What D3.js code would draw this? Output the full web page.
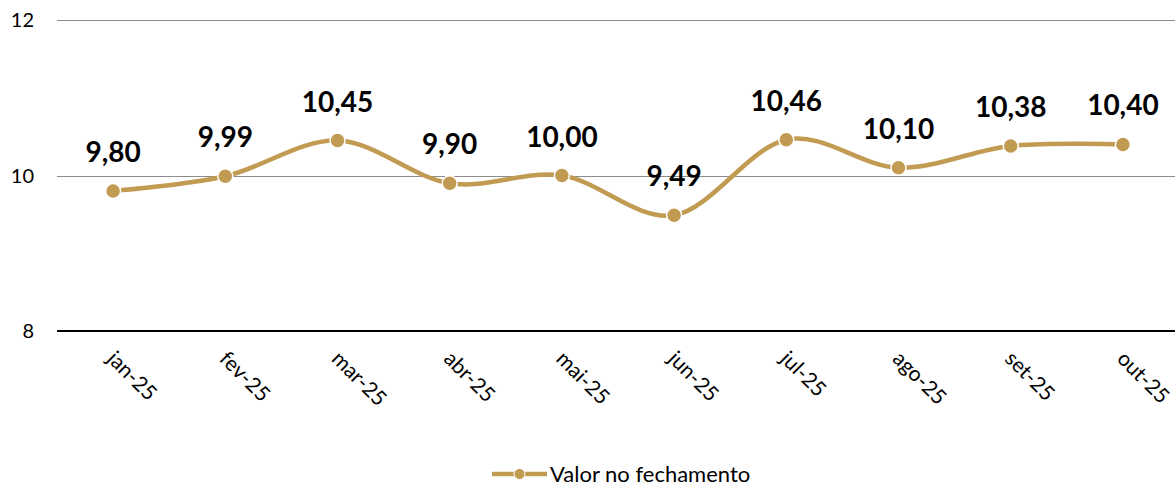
<!DOCTYPE html>
<html>
<head>
<meta charset="utf-8">
<script src="https://cdn.jsdelivr.net/npm/d3@7"></script>
<style>
  body { margin: 0; background: #fff; }
  text { font-family: Lato, "Open Sans", sans-serif; fill: #000; }
</style>
</head>
<body>
<div id="chart"></div>
<script>
// data
const months = ["jan-25", "fev-25", "mar-25", "abr-25", "mai-25", "jun-25", "jul-25", "ago-25", "set-25", "out-25"];
const closingValues = [9.80, 9.99, 10.45, 9.90, 10.00, 9.49, 10.46, 10.10, 10.38, 10.40];
const yTicks = [8, 10, 12];
const seriesName = "Valor no fechamento";

const width = 1175, height = 486;
const gold = "#C29B52";

const svg = d3.select("#chart").append("svg")
    .attr("width", width)
    .attr("height", height);

const x = d3.scalePoint()
    .domain(months)
    .range([57, 1179])
    .padding(0.5);

const y = d3.scaleLinear()
    .domain([8, 12])
    .range([331, 20]);

const fmt = v => d3.format(".2f")(v).replace(".", ",");

// gridlines
svg.append("g").selectAll("line")
    .data(yTicks.filter(t => t !== 8))
    .join("line")
    .attr("x1", 57).attr("x2", width)
    .attr("y1", d => Math.round(y(d)) + 0.5)
    .attr("y2", d => Math.round(y(d)) + 0.5)
    .attr("stroke", "#8c8c8c")
    .attr("stroke-width", 1);

// baseline axis
svg.append("line")
    .attr("x1", 57).attr("x2", width)
    .attr("y1", y(8)).attr("y2", y(8))
    .attr("stroke", "#000")
    .attr("stroke-width", 2);

// y tick labels
svg.append("g").selectAll("text")
    .data(yTicks)
    .join("text")
    .attr("x", 34)
    .attr("y", d => y(d))
    .attr("dy", "0.36em")
    .attr("text-anchor", "end")
    .style("font-size", "20px")
    .text(d => d);

// x labels rotated (last one runs off the edge, as in the original)
svg.append("g").selectAll("text")
    .data(months)
    .join("text")
    .attr("transform", d => `translate(${x(d) - 7},${360}) rotate(45)`)
    .style("font-size", "21px")
    .text(d => d);

// line
const line = d3.line()
    .x((d, i) => x(months[i]))
    .y(d => y(d))
    .curve(d3.curveCardinal.tension(0));

svg.append("path")
    .datum(closingValues)
    .attr("d", line)
    .attr("fill", "none")
    .attr("stroke", gold)
    .attr("stroke-width", 4.5)
    .attr("stroke-linecap", "round");

svg.append("g").selectAll("circle")
    .data(closingValues)
    .join("circle")
    .attr("cx", (d, i) => x(months[i]))
    .attr("cy", d => y(d))
    .attr("r", 7.5)
    .attr("fill", gold)
    .attr("stroke", "#fff")
    .attr("stroke-width", 1.5);

// data labels
svg.append("g").selectAll("text")
    .data(closingValues)
    .join("text")
    .attr("x", (d, i) => x(months[i]))
    .attr("y", d => y(d) - 29)
    .attr("text-anchor", "middle")
    .style("font-size", "28px")
    .style("font-weight", "bold")
    .text(d => fmt(d));

// legend
const legend = svg.append("g").attr("transform", "translate(492,474)");
legend.append("line")
    .attr("x1", 0).attr("x2", 55)
    .attr("stroke", gold)
    .attr("stroke-width", 4.5);
legend.append("circle")
    .attr("cx", 27.5).attr("r", 5.5)
    .attr("fill", gold)
    .attr("stroke", "#fff")
    .attr("stroke-width", 1);
legend.append("text")
    .attr("x", 58)
    .attr("dy", "0.36em")
    .style("font-size", "22px")
    .text(seriesName);
</script>
</body>
</html>
